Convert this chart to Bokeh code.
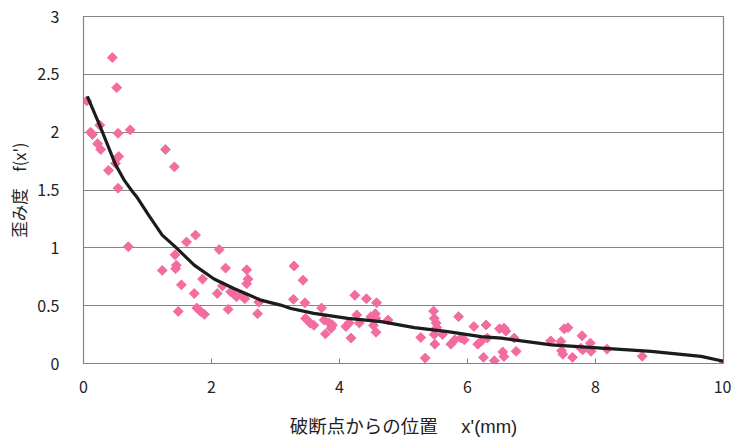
import math
from bokeh.plotting import figure
from bokeh.models import FixedTicker, CustomJSTickFormatter, Range1d, Title
from bokeh.embed import file_html
from bokeh.resources import INLINE

# Measured distortion values versus distance from the fracture point
pos_x = [0.05, 0.11, 0.14, 0.255, 0.45, 0.52, 0.54, 0.73, 0.22, 0.27, 0.55, 0.50,
         0.39, 0.54, 1.28, 1.42, 0.70, 1.23, 1.43, 1.45, 1.44, 1.48, 1.61, 1.75,
         1.53, 1.86, 1.73, 1.77, 1.83, 1.89, 2.12, 2.22, 2.09, 2.17, 2.26, 2.30,
         2.35, 2.39, 2.46, 2.52, 2.55, 2.57, 2.55, 2.72, 2.74, 3.29, 3.43, 3.28,
         3.46, 3.47, 3.54, 3.60, 3.72, 3.76, 3.84, 3.78, 3.89, 3.87, 4.10, 4.15,
         4.18, 4.24, 4.27, 4.31, 4.42, 4.58, 4.49, 4.56, 4.57, 4.53, 4.57, 4.76,
         5.27, 5.34, 5.47, 5.48, 5.51, 5.52, 5.48, 5.49, 5.61, 5.74, 5.80, 5.90,
         5.95, 5.86, 6.10, 6.16, 6.21, 6.25, 6.29, 6.31, 6.42, 6.50, 6.57, 6.60,
         6.55, 6.57, 6.76, 6.73, 7.30, 7.46, 7.47, 7.49, 7.51, 7.57, 7.64, 7.79,
         7.77, 7.80, 7.92, 7.93, 8.18, 8.73, 10.0]
distortion = [2.27, 2.00, 1.98, 2.06, 2.645, 2.385, 1.99, 2.02, 1.90, 1.85, 1.79, 1.73,
              1.67, 1.515, 1.85, 1.70, 1.01, 0.805, 0.94, 0.85, 0.82, 0.45, 1.05, 1.11,
              0.68, 0.73, 0.605, 0.48, 0.45, 0.425, 0.985, 0.825, 0.605, 0.67, 0.468, 0.62,
              0.60, 0.577, 0.59, 0.56, 0.81, 0.73, 0.69, 0.43, 0.53, 0.843, 0.72, 0.555,
              0.525, 0.39, 0.35, 0.33, 0.48, 0.376, 0.35, 0.256, 0.333, 0.305, 0.32, 0.35,
              0.22, 0.59, 0.42, 0.35, 0.56, 0.525, 0.405, 0.43, 0.39, 0.33, 0.27, 0.376,
              0.225, 0.047, 0.453, 0.39, 0.35, 0.31, 0.25, 0.167, 0.25, 0.167, 0.204, 0.22,
              0.204, 0.405, 0.32, 0.167, 0.19, 0.053, 0.333, 0.22, 0.024, 0.30, 0.305, 0.28,
              0.10, 0.06, 0.105, 0.22, 0.196, 0.19, 0.11, 0.08, 0.30, 0.31, 0.053, 0.24,
              0.133, 0.118, 0.176, 0.105, 0.124, 0.062, 0.0]

# Fitted trend curve
curve_x = [0.06, 0.26, 0.50, 0.63, 0.76, 0.84, 1.02, 1.23, 1.44, 1.73, 2.04, 2.35,
           2.77, 3.08, 3.24, 3.60, 4.13, 4.65, 5.17, 5.69, 6.21, 6.53, 6.99, 7.31,
           8.09, 8.87, 9.65, 10.0]
curve_y = [2.31, 2.05, 1.72, 1.59, 1.49, 1.435, 1.28, 1.11, 1.006, 0.85, 0.73, 0.648,
           0.548, 0.505, 0.476, 0.433, 0.39, 0.362, 0.31, 0.276, 0.233, 0.219, 0.185, 0.161,
           0.133, 0.105, 0.062, 0.019]

x_ticks = [0, 2, 4, 6, 8, 10]
y_ticks = [0, 0.5, 1, 1.5, 2, 2.5, 3]

x_title = "破断点からの位置　 x'(mm)"
y_title = "歪み度　f(x')"

FONT = "Noto Sans CJK JP"
TITLE_FONT = "Liberation Sans, Noto Sans CJK JP"
GRAY = "#858585"
TEXT = "#222222"

p = figure(width=731, height=439, output_backend="svg", toolbar_location=None,
           x_range=Range1d(0, 10), y_range=Range1d(0, 3),
           min_border_left=82, min_border_right=8, min_border_top=16, min_border_bottom=74)
p.background_fill_color = "white"
p.border_fill_color = "white"
p.outline_line_color = GRAY
p.outline_line_width = 1.2

p.xgrid.visible = False
p.ygrid.grid_line_color = GRAY
p.ygrid.grid_line_width = 1.2

fmt = CustomJSTickFormatter(code="return String(tick);")

p.xaxis.ticker = FixedTicker(ticks=x_ticks)
p.xaxis.formatter = fmt
p.xaxis.axis_line_color = GRAY
p.xaxis.major_tick_line_color = GRAY
p.xaxis.major_tick_in = 5
p.xaxis.major_tick_out = 0
p.xaxis.minor_tick_line_color = None
p.xaxis.major_label_standoff = 17
p.xaxis.axis_label = x_title
p.xaxis.axis_label_standoff = 20
p.xaxis.axis_label_text_font = TITLE_FONT
p.xaxis.axis_label_text_font_size = "18.5px"
p.xaxis.axis_label_text_font_style = "normal"
p.xaxis.axis_label_text_color = TEXT

p.yaxis.ticker = FixedTicker(ticks=y_ticks)
p.yaxis.formatter = fmt
p.yaxis.axis_line_color = GRAY
p.yaxis.major_tick_line_color = None
p.yaxis.minor_tick_line_color = None
p.yaxis.major_label_standoff = 18

for ax in (p.xaxis, p.yaxis):
    ax.major_label_text_font = FONT
    ax.major_label_text_font_size = "16px"
    ax.major_label_text_color = TEXT

# Vertical title beside the y axis
p.add_layout(Title(text=y_title, align="center", text_font=FONT,
                   text_font_size="16.5px", text_font_style="normal",
                   text_color=TEXT, standoff=8), "left")

p.scatter(pos_x, distortion, marker="square", angle=math.pi / 4, size=7,
          fill_color="#F26CA0", line_color="#F26CA0")
p.line(curve_x, curve_y, line_color="#1c1c1c", line_width=3.2)

open("out.html", "w").write(file_html(p, INLINE))
